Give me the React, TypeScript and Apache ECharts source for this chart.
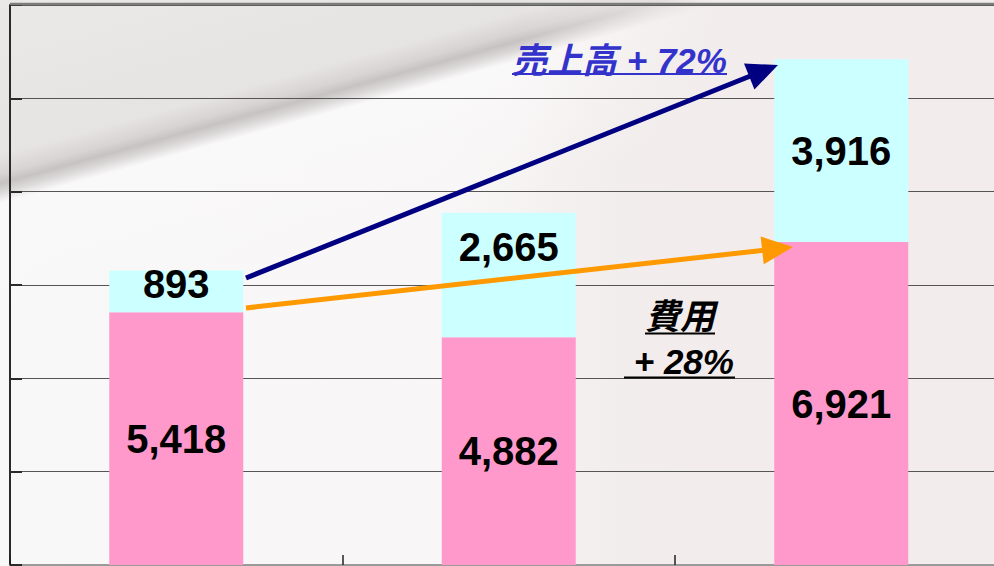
import React, { useEffect, useRef } from "react";
import * as echarts from "echarts";

const categories = ["第1期", "第2期", "第3期"];
const costValues = [5418, 4882, 6921];
const profitValues = [893, 2665, 3916];
const yMin = 0;
const yMax = 12000;
const yInterval = 2000;

const salesGrowthLabel = "売上高 + 72%";
const costLabel = "費用";
const costGrowthLabel = " + 28%";

// label nudges (style only)
const profitLabelOffsets = [[0, -7], [0, -28], [0, 0]];

const labelFont = "'Liberation Sans', Arial, sans-serif";
const annoFont = "italic bold 35px 'Liberation Sans', Arial, 'Noto Sans CJK JP', sans-serif";

function arrow(x1: number, y1: number, x2: number, y2: number, color: string, w: number) {
  const dx = x2 - x1;
  const dy = y2 - y1;
  const len = Math.sqrt(dx * dx + dy * dy);
  const ux = dx / len;
  const uy = dy / len;
  const headLen = 31;
  const half = 14;
  const bx = x2 - ux * headLen;
  const by = y2 - uy * headLen;
  const px = -uy;
  const py = ux;
  return [
    {
      type: "line",
      shape: { x1, y1, x2: bx + ux * 2, y2: by + uy * 2 },
      style: { stroke: color, lineWidth: w, lineCap: "butt" },
      z: 50,
    },
    {
      type: "polygon",
      shape: {
        points: [
          [x2, y2],
          [bx + px * half, by + py * half],
          [bx - px * half, by - py * half],
        ],
      },
      style: { fill: color },
      z: 50,
    },
  ];
}

export default function App() {
  const ref = useRef<HTMLDivElement>(null);

  useEffect(() => {
    if (!ref.current) return;
    const chart = echarts.init(ref.current, undefined, { renderer: "svg" });
    const fmt = (p: any) => Number(p.value).toLocaleString("en-US");

    const option: any = {
      animation: false,
      backgroundColor: "transparent",
      grid: { left: 10, top: 5, width: 997.5, height: 560, containLabel: false },
      xAxis: {
        type: "category",
        data: categories,
        axisLine: { show: true, lineStyle: { color: "#9a9a9a", width: 2 } },
        axisTick: { show: true, inside: true, length: 10, lineStyle: { color: "#222", width: 1.5 } },
        axisLabel: { show: false },
        splitLine: { show: false },
      },
      yAxis: {
        type: "value",
        min: yMin,
        max: yMax,
        interval: yInterval,
        axisLine: { show: true, lineStyle: { color: "#2a2a2a", width: 2 } },
        axisTick: { show: true, inside: true, length: 12, lineStyle: { color: "#2a2a2a", width: 2 } },
        axisLabel: { show: false },
        splitLine: { show: true, lineStyle: { color: "#555", width: 1 } },
      },
      series: [
        {
          name: "費用",
          type: "bar",
          stack: "total",
          barWidth: 134,
          data: costValues,
          itemStyle: { color: "#ff99cc" },
          label: {
            show: true,
            position: "inside",
            formatter: fmt,
            color: "#000",
            fontFamily: labelFont,
            fontWeight: "bold",
            fontSize: 40,
          },
        },
        {
          name: "利益",
          type: "bar",
          stack: "total",
          barWidth: 134,
          data: profitValues.map((v, i) => ({ value: v, label: { offset: profitLabelOffsets[i] } })),
          itemStyle: { color: "#ccffff" },
          label: {
            show: true,
            position: "inside",
            formatter: fmt,
            color: "#000",
            fontFamily: labelFont,
            fontWeight: "bold",
            fontSize: 40,
          },
        },
      ],
      graphic: [
        {
          type: "line",
          shape: { x1: 10, y1: 4, x2: 1010, y2: 4 },
          style: { stroke: "#7c7c7c", lineWidth: 2.5 },
          z: 40,
        },
        ...arrow(246, 278, 778, 65, "#000080", 5),
        ...arrow(246, 308, 793, 247, "#ff9900", 5),
        {
          type: "text",
          x: 512,
          y: 60,
          style: {
            text: salesGrowthLabel,
            font: annoFont,
            fill: "#3333cc",
            textAlign: "left",
            textVerticalAlign: "middle",
            align: "left",
            verticalAlign: "middle",
          },
          z: 60,
        },
        {
          type: "line",
          shape: { x1: 512, y1: 74, x2: 727, y2: 74 },
          style: { stroke: "#3333cc", lineWidth: 2 },
          z: 60,
        },
        {
          type: "text",
          x: 645,
          y: 316,
          style: {
            text: costLabel,
            font: annoFont,
            fill: "#000",
            textAlign: "left",
            textVerticalAlign: "middle",
            align: "left",
            verticalAlign: "middle",
          },
          z: 60,
        },
        {
          type: "line",
          shape: { x1: 645, y1: 333.5, x2: 715, y2: 333.5 },
          style: { stroke: "#000", lineWidth: 2 },
          z: 60,
        },
        {
          type: "text",
          x: 624,
          y: 361,
          style: {
            text: costGrowthLabel,
            font: annoFont,
            fill: "#000",
            textAlign: "left",
            textVerticalAlign: "middle",
            align: "left",
            verticalAlign: "middle",
          },
          z: 60,
        },
        {
          type: "line",
          shape: { x1: 624, y1: 377.5, x2: 735, y2: 377.5 },
          style: { stroke: "#000", lineWidth: 2 },
          z: 60,
        },
      ],
    };

    chart.setOption(option);
    return () => chart.dispose();
  }, []);

  const bg = [
    "linear-gradient(to right, rgba(242,236,236,0) 52%, rgba(242,236,236,0.95) 72%)",
    "linear-gradient(164.6deg, rgba(234,231,231,0.95) 0px, rgba(229,226,226,0.95) 150px, rgba(214,210,210,0.95) 168px, rgba(196,192,192,0.95) 177px, rgba(214,211,211,0.9) 185px, rgba(250,249,249,0.95) 196px, rgba(250,249,249,0.6) 240px, rgba(250,249,249,0) 320px)",
    "linear-gradient(to right, #f9f8f8 0%, #f8f6f6 45%, #f2ecec 68%, #f2ecec 100%)",
  ].join(", ");

  return (
    <div
      style={{
        position: "fixed",
        left: 0,
        top: 0,
        width: 994,
        height: 566,
        overflow: "hidden",
        background: bg,
      }}
    >
      <div ref={ref} style={{ width: 1010, height: 566 }} />
    </div>
  );
}
